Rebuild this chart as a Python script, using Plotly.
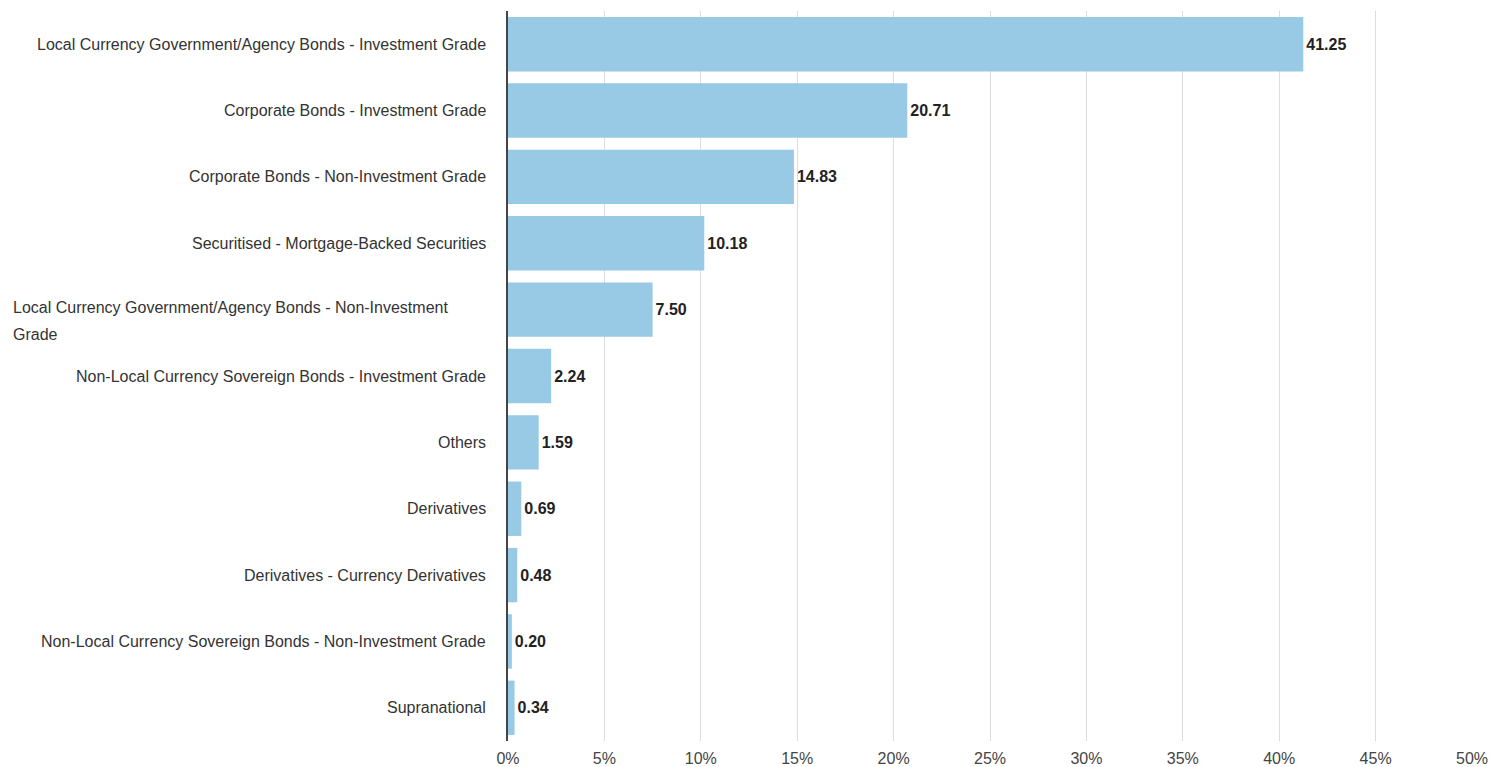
import plotly.graph_objects as go

categories = [
    "Local Currency Government/Agency Bonds - Investment Grade",
    "Corporate Bonds - Investment Grade",
    "Corporate Bonds - Non-Investment Grade",
    "Securitised - Mortgage-Backed Securities",
    "Local Currency Government/Agency Bonds - Non-Investment Grade",
    "Non-Local Currency Sovereign Bonds - Investment Grade",
    "Others",
    "Derivatives",
    "Derivatives - Currency Derivatives",
    "Non-Local Currency Sovereign Bonds - Non-Investment Grade",
    "Supranational",
]
values = [41.25, 20.71, 14.83, 10.18, 7.50, 2.24, 1.59, 0.69, 0.48, 0.20, 0.34]
tick_vals = [0, 5, 10, 15, 20, 25, 30, 35, 40, 45, 50]
tick_text = [f"{t}%" for t in tick_vals]

W, H = 1491, 767
ML, MR, MT, MB = 508, 19, 11, 26
pw = W - ML - MR

FONT = "Liberation Sans, Arial, sans-serif"
LBL = dict(family=FONT, size=16, color="#333333")

fig = go.Figure(go.Bar(
    y=list(range(len(categories))),
    x=values,
    orientation="h",
    marker=dict(color="#98CAE6", line=dict(width=0)),
    text=[f"{v:.2f}" for v in values],
    textposition="outside",
    textfont=dict(family=FONT, size=16, color="#222222", weight="bold"),
    cliponaxis=False,
    hoverinfo="skip",
))

annotations = []
for i, c in enumerate(categories):
    if c == "Local Currency Government/Agency Bonds - Non-Investment Grade":
        first, second = "Local Currency Government/Agency Bonds - Non-Investment", "Grade"
        annotations.append(dict(
            x=(11 - ML) / pw, xref="paper", y=i, yref="y", yshift=2,
            text=first, showarrow=False, xanchor="left", align="left", font=LBL,
        ))
        annotations.append(dict(
            x=(11 - ML) / pw, xref="paper", y=i, yref="y", yshift=-25,
            text=second, showarrow=False, xanchor="left", align="left", font=LBL,
        ))
    else:
        annotations.append(dict(
            x=0, xref="paper", y=i, yref="y", xshift=-20,
            text=c, showarrow=False, xanchor="right", align="right", font=LBL,
        ))

fig.update_layout(
    width=W, height=H,
    margin=dict(l=ML, r=MR, t=MT, b=MB, autoexpand=False),
    plot_bgcolor="white", paper_bgcolor="white",
    bargap=0.18,
    showlegend=False,
    annotations=annotations,
    xaxis=dict(
        range=[0, 50], tickmode="array", tickvals=tick_vals, ticktext=tick_text,
        showgrid=True, gridcolor="#dddddd", gridwidth=1,
        zeroline=False, showline=False, automargin=False,
        ticks="outside", ticklen=3, tickcolor="rgba(0,0,0,0)",
        tickfont=dict(family=FONT, size=16, color="#444444"),
    ),
    yaxis=dict(
        range=[len(categories) - 0.5, -0.5], automargin=False,
        showticklabels=False, showgrid=False, zeroline=False,
        showline=True, linecolor="#444444", linewidth=1.5, ticks="",
    ),
)

fig.write_html("out.html")
